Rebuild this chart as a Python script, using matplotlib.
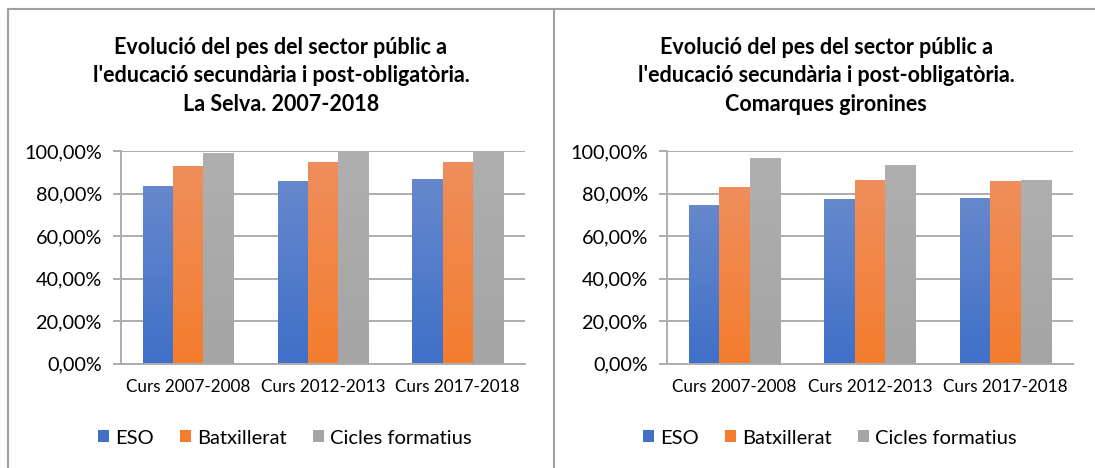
import numpy as np
import matplotlib
matplotlib.use("Agg")
import matplotlib.pyplot as plt
from matplotlib.colors import LinearSegmentedColormap
from matplotlib.lines import Line2D
from matplotlib.patches import Patch
from matplotlib.ticker import FuncFormatter, MultipleLocator

plt.rcParams['font.family'] = ['Lato', 'DejaVu Sans']

# data (percent)
courses = ["Curs 2007-2008", "Curs 2012-2013", "Curs 2017-2018"]
series_names = ["ESO", "Batxillerat", "Cicles formatius"]
selva_eso = [83.5, 85.7, 86.7]
selva_batx = [93.0, 94.8, 94.8]
selva_cicles = [99.0, 100.0, 100.0]
girona_eso = [74.6, 77.3, 77.9]
girona_batx = [83.1, 86.2, 85.9]
girona_cicles = [96.7, 93.4, 86.4]

titles = [
    "Evolució del pes del sector públic a\nl'educació secundària i post-obligatòria.\nLa Selva. 2007-2018",
    "Evolució del pes del sector públic a\nl'educació secundària i post-obligatòria.\nComarques gironines",
]

# (bottom colour, top colour) for the gradient fill
grads = [("#4070C8", "#6688CC"), ("#F47D2E", "#EF8E5C"), ("#A5A5A5", "#AFAFAF")]
grid_col = "#ADADAD"

W, H = 1095, 468
fig = plt.figure(figsize=(W / 100, H / 100), dpi=100)


def draw_panel(rect, values):
    ax = fig.add_axes(rect)
    x = np.arange(len(courses))
    bw = 0.225
    for i, vals in enumerate(values):
        bars = ax.bar(x + (i - 1) * bw, vals, bw, color=grads[i][0], zorder=2,
                      linewidth=0)
        cmap = LinearSegmentedColormap.from_list("g%d" % i, grads[i])
        grad = np.linspace(0, 1, 64).reshape(-1, 1)
        for b in bars:
            bx, bwid, bh = b.get_x(), b.get_width(), b.get_height()
            im = ax.imshow(grad, cmap=cmap, origin="lower", aspect="auto",
                           extent=(bx, bx + bwid, 0, bh), zorder=3,
                           interpolation="bilinear")
            im.set_clip_path(b)
    ax.set_xlim(-0.5, len(courses) - 0.5)
    ax.set_ylim(0, 100)
    ax.yaxis.set_major_locator(MultipleLocator(20))
    ax.yaxis.set_major_formatter(
        FuncFormatter(lambda v, p: f"{v:.2f}".replace(".", ",") + "%"))
    ax.set_xticks(x)
    ax.set_xticklabels(courses, fontsize=12.3)
    ax.tick_params(axis="x", length=0, pad=11)
    ax.tick_params(axis="y", length=5.8, width=1.4, color=grid_col,
                   labelsize=14.3, pad=8)
    ax.grid(axis="y", color=grid_col, linewidth=1.4, zorder=1)
    ax.set_axisbelow(True)
    for s in ["top", "right"]:
        ax.spines[s].set_visible(False)
    for s in ["left", "bottom"]:
        ax.spines[s].set_color(grid_col)
        ax.spines[s].set_linewidth(1.4)
    return ax


bottom = (H - 363.5) / H
height = 212.5 / H
draw_panel([121 / W, bottom, 404 / W, height],
           [selva_eso, selva_batx, selva_cicles])
draw_panel([667 / W, bottom, 406 / W, height],
           [girona_eso, girona_batx, girona_cicles])

centers = [281 / W, 826 / W]
for cx, t in zip(centers, titles):
    fig.text(cx, 1 - 76 / H, t, ha="center", va="center", ma="center",
             fontsize=15.5, fontweight="bold", linespacing=1.45)

handles = [Patch(facecolor=g[0]) for g in grads]
for cx in centers:
    fig.legend(handles, series_names, loc="center",
               bbox_to_anchor=(cx + 4 / W, 1 - 438 / H), ncol=3, frameon=False,
               fontsize=14.5, handlelength=0.55, handleheight=0.55,
               handletextpad=0.3, columnspacing=1.3)

# chart borders
bcol = "#A0A0A0"
x_left = 8 / W
y_top = 1 - 9 / H
fig.add_artist(Line2D([x_left, x_left], [0, y_top], color=bcol, lw=1.5))
fig.add_artist(Line2D([x_left, 1], [y_top, y_top], color=bcol, lw=1.5))
fig.add_artist(Line2D([554.3 / W, 554.3 / W], [0, y_top], color=bcol, lw=1.5))

fig.savefig("out.png", dpi=100)
